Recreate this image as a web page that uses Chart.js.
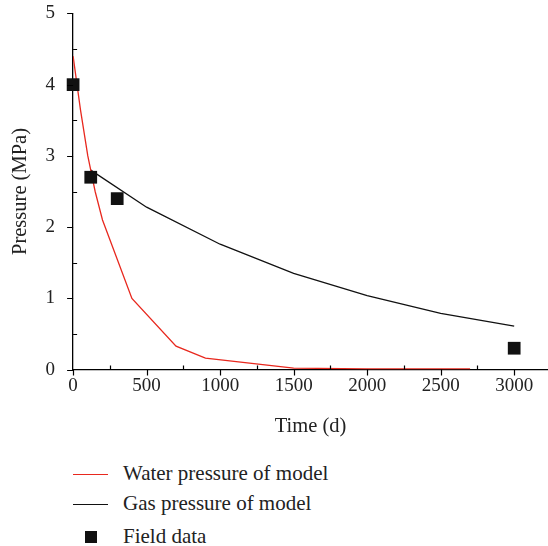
<!DOCTYPE html>
<html>
<head>
<meta charset="utf-8">
<script src="https://cdn.jsdelivr.net/npm/chart.js@4/dist/chart.umd.min.js"></script>
<style>
  body { margin: 0; background: #fff; font-family: "Liberation Serif", serif; }
  #wrap { position: relative; width: 548px; height: 443px; overflow: hidden; }
  #inner { position: absolute; left: 0; top: -8px; width: 557px; height: 451px; }
  #legend { position: absolute; left: 0; top: 458px; width: 548px; font-size: 21px; color: #222; }
  .item { position: absolute; left: 0; height: 30px; }
  .item span.t { position: absolute; left: 123px; top: -13px; white-space: nowrap; }
  .ln { position: absolute; left: 73px; width: 35px; height: 0; border-top: 1.3px solid; }
  .sq { position: absolute; left: 85px; top: -6px; width: 12px; height: 12px; background: #111; }
</style>
</head>
<body>
<div id="wrap"><div id="inner"><canvas id="chart"></canvas></div></div>
<div id="legend">
  <div class="item" style="top:16px"><div class="ln" style="border-color:#e8281e"></div><span class="t">Water pressure of model</span></div>
  <div class="item" style="top:46px"><div class="ln" style="border-color:#111"></div><span class="t">Gas pressure of model</span></div>
  <div class="item" style="top:79px"><div class="sq"></div><span class="t">Field data</span></div>
</div>
<script>
// water pressure of model
const waterT = [0, 50, 100, 150, 200, 400, 700, 900, 1500, 2000, 2700];
const waterP = [4.4, 3.65, 3.0, 2.5, 2.1, 1.0, 0.33, 0.16, 0.02, 0.01, 0.01];

// gas pressure of model
const gasT = [120, 500, 1000, 1500, 2000, 2500, 3000];
const gasP = [2.8, 2.28, 1.76, 1.35, 1.04, 0.79, 0.61];

// field data
const fieldT = [0, 120, 300, 3000];
const fieldP = [4.0, 2.7, 2.4, 0.3];

const xTicks = [0, 500, 1000, 1500, 2000, 2500, 3000];
const yTicks = [0, 1, 2, 3, 4, 5];

const pts = (xs, ys) => xs.map((x, i) => ({ x: x, y: ys[i] }));
const tickFont = { family: '"Liberation Serif", serif', size: 19 };
const titleFont = { family: '"Liberation Serif", serif', size: 20.5 };

// axis tick marks: major ones outside, minor ones inside
const axisTicks = {
  id: 'axisTicks',
  afterDraw(chart) {
    const { ctx, scales: { x, y } } = chart;
    ctx.save();
    ctx.strokeStyle = '#000';
    ctx.lineWidth = 1.2;
    ctx.beginPath();
    xTicks.forEach(v => {
      const px = Math.round(x.getPixelForValue(v)) + 0.5;
      ctx.moveTo(px, y.bottom);
      ctx.lineTo(px, y.bottom + 6);
    });
    yTicks.forEach(v => {
      const py = Math.round(y.getPixelForValue(v)) + 0.5;
      ctx.moveTo(x.left, py);
      ctx.lineTo(x.left - 6, py);
    });
    for (let v = 250; v < x.max; v += 500) {
      const px = Math.round(x.getPixelForValue(v)) + 0.5;
      ctx.moveTo(px, y.bottom);
      ctx.lineTo(px, y.bottom - 4);
    }
    for (let v = 0.5; v < y.max; v += 1) {
      const py = Math.round(y.getPixelForValue(v)) + 0.5;
      ctx.moveTo(x.left, py);
      ctx.lineTo(x.left + 4, py);
    }
    ctx.stroke();
    ctx.restore();
  }
};

new Chart(document.getElementById('chart'), {
  type: 'scatter',
  data: {
    datasets: [
      {
        label: 'Field data',
        data: pts(fieldT, fieldP),
        pointStyle: 'rect',
        pointRadius: 9,
        backgroundColor: '#111',
        borderColor: '#111',
        borderWidth: 0,
        clip: false
      },
      {
        label: 'Water pressure of model',
        data: pts(waterT, waterP),
        showLine: true,
        borderColor: '#e8281e',
        borderWidth: 1.3,
        pointRadius: 0,
        tension: 0
      },
      {
        label: 'Gas pressure of model',
        data: pts(gasT, gasP),
        showLine: true,
        borderColor: '#111',
        borderWidth: 1.3,
        pointRadius: 0,
        tension: 0
      }
    ]
  },
  options: {
    responsive: true,
    maintainAspectRatio: false,
    animation: false,
    layout: { padding: { top: 0, right: 0, left: 4, bottom: 0 } },
    plugins: {
      legend: { display: false },
      tooltip: { enabled: false }
    },
    scales: {
      x: {
        type: 'linear',
        min: 0,
        max: 3230,
        afterBuildTicks: (s) => { s.ticks = xTicks.map(v => ({ value: v })); },
        ticks: { font: tickFont, color: '#222', padding: -3, maxRotation: 0, callback: v => String(v) },
        grid: { display: false },
        border: { color: '#000', width: 1.3 },
        title: { display: true, text: 'Time (d)', font: titleFont, color: '#222', padding: { top: 20 } }
      },
      y: {
        min: 0,
        max: 5,
        afterBuildTicks: (s) => { s.ticks = yTicks.map(v => ({ value: v })); },
        ticks: { font: tickFont, color: '#222', padding: 10, callback: v => String(v) },
        grid: { display: false },
        border: { color: '#000', width: 1.3 },
        title: { display: true, text: 'Pressure (MPa)', font: titleFont, color: '#222', padding: { bottom: 3 } }
      }
    }
  },
  plugins: [axisTicks]
});
</script>
</body>
</html>
